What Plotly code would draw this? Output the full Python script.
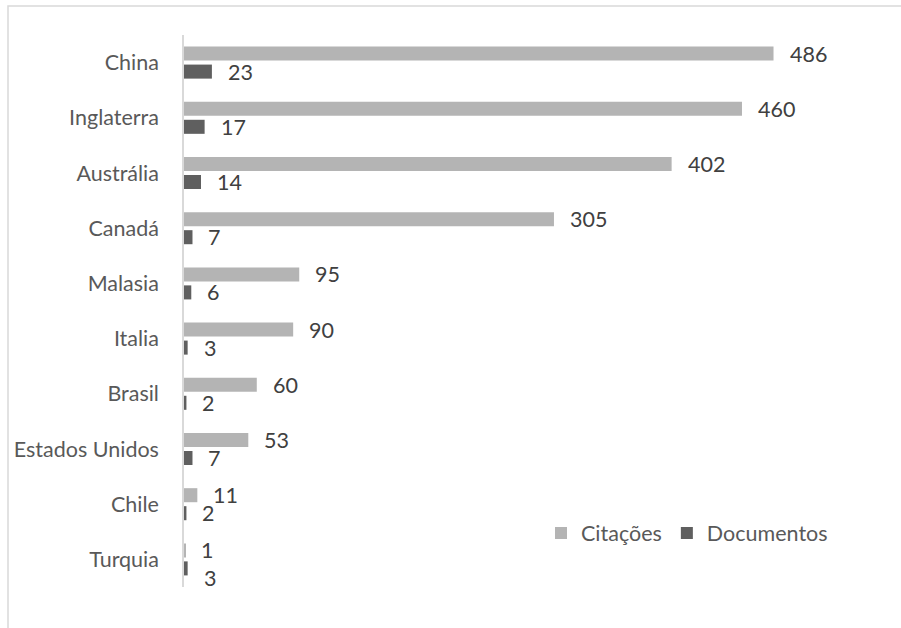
import plotly.graph_objects as go

countries = ["China", "Inglaterra", "Austrália", "Canadá", "Malasia", "Italia",
             "Brasil", "Estados Unidos", "Chile", "Turquia"]
citacoes = [486, 460, 402, 305, 95, 90, 60, 53, 11, 1]
documentos = [23, 17, 14, 7, 6, 3, 2, 7, 2, 3]

W, H = 901, 628
ML, MR, MT, MB = 184, 21, 35, 41
pw = W - ML - MR
ph = H - MT - MB
xmax = pw / 1.213

FONT = "Lato"
fig = go.Figure()
fig.add_trace(go.Bar(y=countries, x=citacoes, orientation="h", name="Citações",
                     marker=dict(color="#b4b4b4", line=dict(width=0))))
fig.add_trace(go.Bar(y=countries, x=documentos, orientation="h", name="Documentos",
                     marker=dict(color="#5f5f5f", line=dict(width=0))))

annots = []
n = len(countries)
for i, (c, v) in enumerate(zip(countries, citacoes)):
    annots.append(dict(x=v, y=c, text=str(v), showarrow=False, xanchor="left",
                       yanchor="middle", xshift=14, yshift=9,
                       font=dict(family=FONT, size=21.5, color="#404040")))
for i, (c, v) in enumerate(zip(countries, documentos)):
    ys = -9 if i < n - 1 else -19
    annots.append(dict(x=v, y=c, text=str(v), showarrow=False, xanchor="left",
                       yanchor="middle", xshift=14, yshift=ys,
                       font=dict(family=FONT, size=21.5, color="#404040")))

fig.update_layout(
    width=W, height=H,
    margin=dict(l=ML, r=MR, t=MT, b=MB, autoexpand=False),
    paper_bgcolor="white", plot_bgcolor="white",
    barmode="group", bargap=0.348, bargroupgap=0.22,
    font=dict(family=FONT, size=22, color="#595959"),
    xaxis=dict(range=[0, xmax], visible=False, fixedrange=True, automargin=False),
    yaxis=dict(autorange="reversed", showline=True, linecolor="#d9d9d9",
               linewidth=1.5, showgrid=False, zeroline=False, ticks="",
               ticklabelstandoff=19, automargin=False,
               tickfont=dict(family=FONT, size=21.5, color="#595959")),
    legend=dict(orientation="h", x=(541 - ML) / pw, y=1 - (533 - MT) / ph,
                xanchor="left", yanchor="middle", bgcolor="rgba(0,0,0,0)",
                font=dict(family=FONT, size=21.5, color="#595959"),
                itemwidth=30, traceorder="normal"),
    annotations=annots,
    shapes=[dict(type="rect", xref="paper", yref="paper",
                 x0=(8 - ML) / pw, x1=2, y0=-1, y1=1 + (MT - 6) / ph,
                 line=dict(color="#d9d9d9", width=1.5), layer="below")],
    showlegend=True,
)
fig.write_html("out.html")
